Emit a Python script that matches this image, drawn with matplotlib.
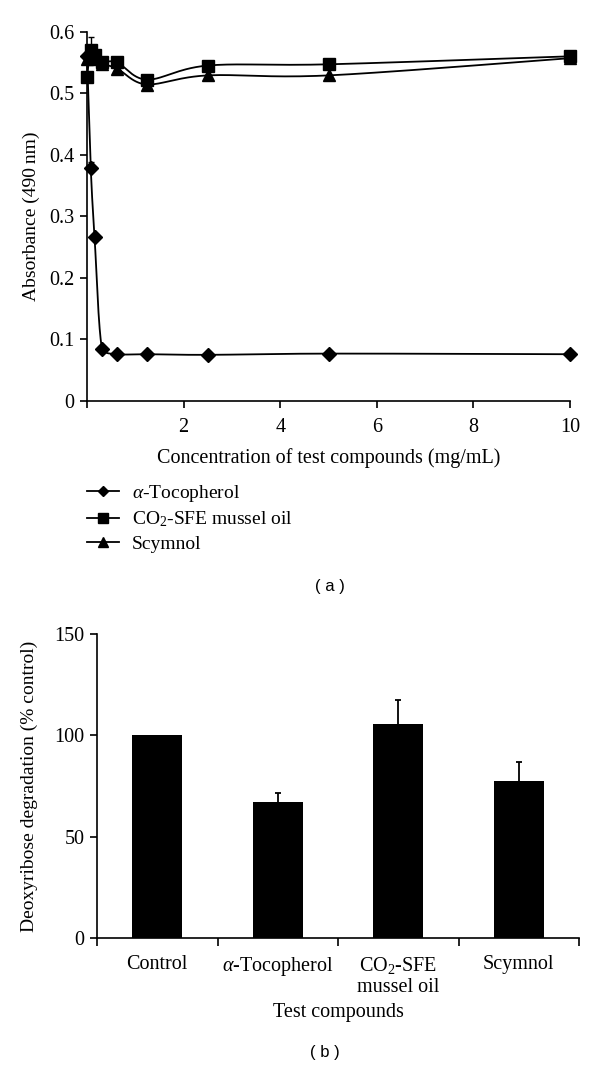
import numpy as np
import matplotlib
matplotlib.use("Agg")
import matplotlib.pyplot as plt
from matplotlib.lines import Line2D

plt.rcParams['font.family'] = ['Liberation Serif', 'DejaVu Serif']
plt.rcParams['mathtext.fontset'] = 'custom'
plt.rcParams['mathtext.rm'] = 'Liberation Serif'
plt.rcParams['mathtext.it'] = 'Liberation Serif:italic'

# ---------------- data (panel a) ----------------
conc = [0, 0.078, 0.156, 0.3125, 0.625, 1.25, 2.5, 5, 10]
toco = [0.560, 0.378, 0.267, 0.084, 0.076, 0.076, 0.075, 0.077, 0.076]
toco_err = [0.004, 0.010, 0.004, 0.003, 0.0, 0.0, 0.0, 0.0, 0.0]
mussel = [0.527, 0.570, 0.562, 0.551, 0.550, 0.522, 0.545, 0.547, 0.560]
mussel_err = [0.0, 0.022, 0.008, 0.0, 0.0, 0.0, 0.0, 0.0, 0.0]
scym = [0.556, 0.560, 0.555, 0.548, 0.540, 0.514, 0.529, 0.529, 0.557]
scym_err = [0.0, 0.0, 0.0, 0.0, 0.0, 0.0, 0.0, 0.0, 0.0]
series_names = [r"$\alpha$-Tocopherol", r"CO$_2$-SFE mussel oil", "Scymnol"]
xticks_a = [0, 2, 4, 6, 8, 10]
xticklabels_a = ["", "2", "4", "6", "8", "10"]
yticks_a = [0, 0.1, 0.2, 0.3, 0.4, 0.5, 0.6]
yticklabels_a = ["0", "0.1", "0.2", "0.3", "0.4", "0.5", "0.6"]

# ---------------- data (panel b) ----------------
compounds = ["Control", r"$\alpha$-Tocopherol", "CO$_2$-SFE\nmussel oil", "Scymnol"]
degradation = [100, 67.2, 105.8, 77.3]
degradation_err = [0, 4.3, 11.8, 9.4]
yticks_b = [0, 50, 100, 150]

W, H = 600, 1071
fig = plt.figure(figsize=(W / 100, H / 100), dpi=100)

def fx(px):
    return px / W

def fy(py):
    return 1 - py / H

FS_TICK = 14.5
FS_LAB = 14.5

# panel a axes
axa = fig.add_axes([fx(87), fy(401), fx(570) - fx(87), fy(31.7) - fy(401)])
axa.set_xlim(0, 10)
axa.set_ylim(0, 0.6)

def smooth_line(ax, x, y, n=30, k=6.0):
    pts = ax.transData.transform(np.column_stack([x, y]))
    P = np.vstack([pts[0], pts, pts[-1]])
    out = []
    t = np.linspace(0, 1, n)[:, None]
    for i in range(1, len(P) - 2):
        p0, p1, p2, p3 = P[i - 1], P[i], P[i + 1], P[i + 2]
        b1 = p1 + (p2 - p0) / k
        b2 = p2 - (p3 - p1) / k
        lo, hi = min(p1[1], p2[1]), max(p1[1], p2[1])
        if hi - lo > 3:
            b1[1] = np.clip(b1[1], lo, hi)
            b2[1] = np.clip(b2[1], lo, hi)
        seg = ((1 - t) ** 3) * p1 + 3 * ((1 - t) ** 2) * t * b1 + 3 * (1 - t) * t ** 2 * b2 + t ** 3 * p2
        out.append(seg)
    out = np.vstack(out)
    data = ax.transData.inverted().transform(out)
    return data[:, 0], data[:, 1]

def up_errors(ax, x, y, e, lw, cap_ms, z):
    x = np.asarray(x, float); y = np.asarray(y, float); e = np.asarray(e, float)
    m = e > 0
    ax.vlines(x[m], y[m], y[m] + e[m], color='black', lw=lw, zorder=z, clip_on=False)
    ax.plot(x[m], y[m] + e[m], linestyle='none', marker='_', markersize=cap_ms,
            markeredgewidth=lw, color='black', zorder=z, clip_on=False)

markers = ['D', 's', '^']
msizes = [7, 8.5, 8.5]
for vals, errs, mk, ms in zip([toco, mussel, scym], [toco_err, mussel_err, scym_err], markers, msizes):
    sx, sy = smooth_line(axa, conc, vals)
    axa.plot(sx, sy, color='black', lw=1.3, clip_on=False, zorder=2)
    up_errors(axa, conc, vals, errs, 1.0, 4, 2)
    axa.plot(conc, vals, linestyle='none', marker=mk, markersize=ms, color='black',
             clip_on=False, zorder=3)

for s in ['top', 'right']:
    axa.spines[s].set_visible(False)
for s in ['left', 'bottom']:
    axa.spines[s].set_linewidth(1.2)
axa.set_xticks(xticks_a)
axa.set_xticklabels(xticklabels_a)
axa.set_yticks(yticks_a)
axa.set_yticklabels(yticklabels_a)
axa.tick_params(direction='out', length=5, width=1.2, labelsize=FS_TICK, pad=4)
axa.tick_params(axis='x', pad=7)
axa.set_xlabel("Concentration of test compounds (mg/mL)", fontsize=FS_LAB, labelpad=8)
axa.set_ylabel("Absorbance (490\u2009nm)", fontsize=14, labelpad=7)

handles = [Line2D([0], [0], color='black', lw=1.3, marker=mk, markersize=ms * 0.8)
           for mk, ms in zip(markers, msizes)]
fig.legend(handles, series_names, loc='upper left', bbox_to_anchor=(fx(87), fy(483)),
           frameon=False, fontsize=14, handlelength=1.65, handletextpad=0.65,
           labelspacing=0.29, borderaxespad=0, borderpad=0)

fig.text(fx(330), fy(586), "( a )", fontsize=12, family='Liberation Sans', ha='center', va='center')

# panel b axes
axb = fig.add_axes([fx(97), fy(938), fx(579) - fx(97), fy(634) - fy(938)])
xpos = np.arange(len(compounds))
axb.bar(xpos, degradation, width=0.415, color='black', zorder=2)
up_errors(axb, xpos, degradation, degradation_err, 1.3, 5, 3)
axb.set_xlim(-0.5, len(compounds) - 0.5)
axb.set_ylim(0, 150)
axb.set_yticks(yticks_b)
for s in ['top', 'right']:
    axb.spines[s].set_visible(False)
for s in ['left', 'bottom']:
    axb.spines[s].set_linewidth(1.2)
axb.set_xticks(xpos)
axb.set_xticklabels(compounds, fontsize=FS_LAB, linespacing=1.2, va='top')
axb.set_xticks(np.arange(-0.5, len(compounds), 1.0), minor=True)
axb.tick_params(axis='x', which='major', length=0, pad=12)
axb.tick_params(axis='x', which='minor', direction='out', length=6, width=1.2)
axb.tick_params(axis='y', direction='out', length=5, width=1.2, labelsize=FS_TICK, pad=4)
axb.set_xlabel("Test compounds", fontsize=FS_LAB, labelpad=4)
axb.set_ylabel("Deoxyribose degradation (% control)", fontsize=14, labelpad=12)

fig.text(fx(325), fy(1053), "( b )", fontsize=12, family='Liberation Sans', ha='center', va='center')

fig.savefig("out.png", dpi=100)
